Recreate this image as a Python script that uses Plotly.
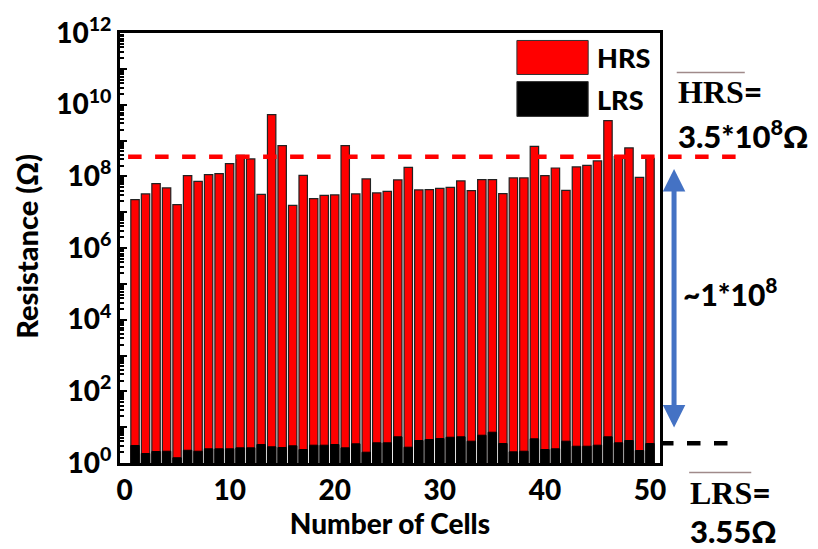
import plotly.graph_objects as go

# Cell index and measured resistances (ohm)
cells = list(range(1, 51))
hrs = [2.24e7, 3.23e7, 6.25e7, 4.75e7, 1.63e7, 1.05e8, 7.26e7, 1.12e8, 1.19e8, 2.26e8,
       3.85e8, 3.06e8, 3.15e7, 5.26e9, 7.18e8, 1.55e7, 1.07e8, 2.39e7, 2.95e7, 3.03e7,
       7.18e8, 3.23e7, 8.46e7, 3.44e7, 3.82e7, 7.94e7, 1.78e8, 4.18e7, 4.26e7, 4.63e7,
       4.93e7, 7.45e7, 3.99e7, 8.09e7, 8.09e7, 3.29e7, 9.02e7, 9.02e7, 6.87e8, 1.05e8,
       1.71e8, 4.07e7, 1.83e8, 2.03e8, 2.69e8, 3.58e9, 3.55e8, 6.20e8, 9.38e7, 3.18e8]
lrs = [3.08, 1.84, 2.09, 2.13, 1.40, 2.27, 2.13, 2.49, 2.49, 2.49,
       2.65, 2.65, 3.28, 2.83, 2.71, 3.02, 2.38, 3.14, 3.14, 3.28,
       2.65, 3.43, 2.00, 3.66, 3.66, 5.38, 2.76, 4.24, 4.52, 4.82,
       5.24, 5.38, 4.06, 5.96, 7.23, 3.50, 2.05, 2.13, 4.73, 2.38,
       2.49, 4.06, 2.94, 2.94, 3.14, 5.38, 3.66, 4.24, 2.23, 3.50]

hrs_mean = 3.5e8
lrs_mean = 3.55
window_ratio_label = "~1*10<sup>8</sup>"

x_ticks = [0, 10, 20, 30, 40, 50]
y_decades = list(range(0, 13))

FONT = "Lato"
SERIF = "Liberation Serif"
HEAVY = 900


def heavy(size, family=FONT):
    return dict(size=size, family=family, weight=HEAVY, color="black")


fig = go.Figure()
fig.add_trace(go.Bar(x=cells, y=hrs, name="HRS", width=0.8,
                     marker=dict(color="#ff0000", line=dict(color="#222222", width=1.2))))
fig.add_trace(go.Bar(x=cells, y=lrs, name="LRS", width=0.8,
                     marker=dict(color="#000000", line=dict(color="#000000", width=1))))

y_tickvals = [10 ** d for d in y_decades]
y_ticktext = [f"10<sup>{d}</sup>" if d % 2 == 0 else "" for d in y_decades]
y_minor = [m * 10 ** d for d in y_decades[:-1] for m in range(2, 10)]

fig.update_layout(
    width=818, height=549,
    margin=dict(l=120, r=158, t=33, b=86),
    paper_bgcolor="white", plot_bgcolor="white",
    barmode="overlay", showlegend=False,
    font=dict(family=FONT, color="black"),
    xaxis=dict(range=[-0.43, 50.95], tickvals=x_ticks,
               ticktext=[str(v) for v in x_ticks],
               tickfont=heavy(28), ticks="",
               showline=True, linecolor="black", linewidth=3, mirror=True,
               showgrid=False, zeroline=False,
               title=dict(text="Number of Cells", font=heavy(28), standoff=5)),
    yaxis=dict(type="log", range=[0, 12], tickvals=y_tickvals, ticktext=y_ticktext,
               tickfont=heavy(28),
               ticks="inside", ticklen=7, tickwidth=2, tickcolor="black",
               minor=dict(tickvals=y_minor, ticks="inside", ticklen=4, tickwidth=1.5,
                          tickcolor="black"),
               showline=True, linecolor="black", linewidth=3, mirror=True,
               showgrid=False, zeroline=False),
)

# Y axis title
fig.add_annotation(text="Resistance (Ω)", xref="paper", yref="paper",
                   x=-0.172, y=0.503, textangle=-90, showarrow=False,
                   font=heavy(29), xanchor="center", yanchor="middle")

# Mean lines
fig.add_shape(type="line", xref="paper", yref="y", x0=0.015, x1=1.141,
              y0=hrs_mean, y1=hrs_mean, line=dict(color="#ff0000", width=4.5, dash="dash"))
fig.add_shape(type="line", xref="paper", yref="y", x0=1.0, x1=1.141,
              y0=lrs_mean, y1=lrs_mean, line=dict(color="#000000", width=4.5, dash="dash"))

# Legend swatches and labels
fig.add_shape(type="rect", xref="paper", yref="paper", x0=0.735, x1=0.867, y0=0.9035, y1=0.9826,
              fillcolor="#ff0000", line=dict(color="#333333", width=1))
fig.add_shape(type="rect", xref="paper", yref="paper", x0=0.735, x1=0.867, y0=0.806, y1=0.887,
              fillcolor="#000000", line=dict(color="#333333", width=1))
fig.add_annotation(text="HRS", xref="paper", yref="paper", x=0.880, y=0.942,
                   xanchor="left", yanchor="middle", showarrow=False, font=heavy(27))
fig.add_annotation(text="LRS", xref="paper", yref="paper", x=0.880, y=0.845,
                   xanchor="left", yanchor="middle", showarrow=False, font=heavy(27))

# Mean annotations (overlined symbols)
fig.add_shape(type="line", xref="paper", yref="paper", x0=1.031, x1=1.157, y0=0.908, y1=0.908,
              line=dict(color="#a08a8a", width=1.5))
fig.add_annotation(text=f"<span style='font-family:{SERIF}'>HRS</span>=",
                   xref="paper", yref="paper", x=1.029, y=0.866, xanchor="left", yanchor="middle",
                   showarrow=False, font=heavy(32))
fig.add_annotation(text="3.5*10<sup>8</sup>Ω", xref="paper", yref="paper",
                   x=1.029, y=0.764, xanchor="left", yanchor="middle",
                   showarrow=False, font=heavy(31))

fig.add_shape(type="line", xref="paper", yref="paper", x0=1.054, x1=1.169, y0=-0.022, y1=-0.022,
              line=dict(color="#a08a8a", width=1.5))
fig.add_annotation(text=f"<span style='font-family:{SERIF}'>LRS</span>=",
                   xref="paper", yref="paper", x=1.052, y=-0.066, xanchor="left", yanchor="middle",
                   showarrow=False, font=heavy(32))
fig.add_annotation(text="3.55Ω", xref="paper", yref="paper",
                   x=1.052, y=-0.158, xanchor="left", yanchor="middle",
                   showarrow=False, font=heavy(31))

# Double-headed arrow spanning the resistance window
fig.add_annotation(text="", xref="paper", yref="paper", x=1.026, y=0.0826,
                   ax=0, ay=-260, showarrow=True, arrowhead=2, arrowside="end+start",
                   arrowsize=0.9, arrowwidth=5, arrowcolor="#4472c4", standoff=0, startstandoff=0)
fig.add_annotation(text=window_ratio_label, xref="paper", yref="paper",
                   x=1.039, y=0.398, xanchor="left", yanchor="middle",
                   showarrow=False, font=heavy(30))

fig.write_html("out.html")
